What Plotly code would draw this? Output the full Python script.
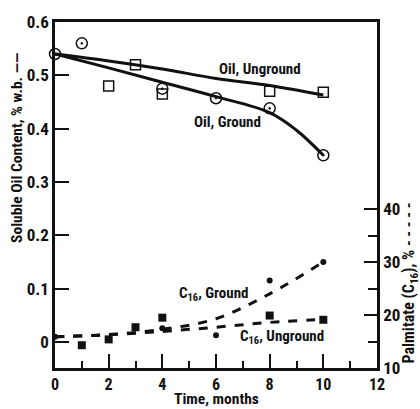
import plotly.graph_objects as go

# ---- data ----
# Oil content (% w.b.), left axis
oil_ground_months = [0, 1, 4, 6, 8, 10]
oil_ground = [0.54, 0.56, 0.475, 0.457, 0.438, 0.35]
oil_unground_months = [2, 3, 4, 8, 10]
oil_unground = [0.48, 0.52, 0.465, 0.47, 0.468]

# fitted curves (drawn by hand in the original)
oil_unground_fit_months = [0, 2, 4, 6, 8, 10]
oil_unground_fit = [0.54, 0.527, 0.512, 0.494, 0.481, 0.463]
oil_ground_fit_months = [0, 2, 4, 6, 8, 9, 10]
oil_ground_fit = [0.54, 0.514, 0.487, 0.46, 0.43, 0.397, 0.35]

# Palmitate C16 (%), right axis
c16_ground_months = [0, 4, 6, 8, 10]
c16_ground = [15.9, 17.5, 16.2, 26.5, 30.0]
c16_unground_months = [1, 2, 3, 4, 8, 10]
c16_unground = [14.3, 15.4, 17.7, 19.5, 19.9, 19.1]

c16_fit_months = [0, 2, 4, 6, 8, 10]
c16_ground_fit = [15.9, 16.3, 17.3, 19.3, 24.0, 30.0]
c16_unground_fit = [15.9, 16.3, 16.9, 17.7, 18.6, 19.2]

x_ticks = [0, 2, 4, 6, 8, 10, 12]
left_ticks = [0, 0.1, 0.2, 0.3, 0.4, 0.5, 0.6]
left_ticklabels = ["0", "0.1", "0.2", "0.3", "0.4", "0.5", "0.6"]
right_ticks = [10, 20, 30, 40]
right_minor = [15, 25, 35]

FONT = "Roboto Condensed, Liberation Sans, Arial, sans-serif"
INK = "#111111"

fig = go.Figure()

# fitted lines
fig.add_trace(go.Scatter(x=oil_unground_fit_months, y=oil_unground_fit, mode="lines",
                         line=dict(color=INK, width=3, shape="spline"), yaxis="y"))
fig.add_trace(go.Scatter(x=oil_ground_fit_months, y=oil_ground_fit, mode="lines",
                         line=dict(color=INK, width=3, shape="spline"), yaxis="y"))
fig.add_trace(go.Scatter(x=c16_fit_months, y=c16_ground_fit, mode="lines",
                         line=dict(color=INK, width=3, shape="spline", dash="dash"), yaxis="y2"))
fig.add_trace(go.Scatter(x=c16_fit_months, y=c16_unground_fit, mode="lines",
                         line=dict(color=INK, width=3, shape="spline", dash="dash"), yaxis="y2"))

# markers
fig.add_trace(go.Scatter(x=oil_unground_months, y=oil_unground, mode="markers",
                         marker=dict(symbol="square-open", size=10, color=INK, line=dict(width=1.5)),
                         cliponaxis=False, yaxis="y"))
fig.add_trace(go.Scatter(x=oil_ground_months, y=oil_ground, mode="markers",
                         marker=dict(symbol="circle-open-dot", size=11, color=INK, line=dict(width=1.5)),
                         cliponaxis=False, yaxis="y"))
fig.add_trace(go.Scatter(x=c16_unground_months, y=c16_unground, mode="markers",
                         marker=dict(symbol="square", size=8, color=INK),
                         cliponaxis=False, yaxis="y2"))
fig.add_trace(go.Scatter(x=c16_ground_months, y=c16_ground, mode="markers",
                         marker=dict(symbol="circle", size=6, color=INK),
                         cliponaxis=False, yaxis="y2"))

tickfont = dict(family=FONT, size=17, color=INK, weight="bold")

fig.update_layout(
    width=420, height=409,
    margin=dict(l=55, r=43, t=20, b=41),
    paper_bgcolor="white", plot_bgcolor="white",
    showlegend=False,
    font=dict(family=FONT, color=INK),
    xaxis=dict(range=[0, 12], tickvals=x_ticks, ticks="inside", ticklen=14, tickwidth=2,
               tickcolor=INK, showline=True, linewidth=2.5, linecolor=INK, mirror=True,
               showgrid=False, zeroline=False, tickfont=dict(family=FONT, size=16, color=INK, weight="bold"),
               minor=dict(dtick=1, ticks="inside", ticklen=7, tickwidth=2, tickcolor=INK, showgrid=False)),
    yaxis=dict(range=[-0.049, 0.6], tickvals=left_ticks, ticktext=left_ticklabels,
               ticks="inside", ticklen=14, tickwidth=2, tickcolor=INK,
               showline=True, linewidth=2.5, linecolor=INK, showgrid=False, zeroline=False,
               tickfont=tickfont),
    yaxis2=dict(range=[10, 75.3], overlaying="y", side="right", tickvals=right_ticks,
                ticks="inside", ticklen=13, tickwidth=2, tickcolor=INK,
                showline=True, linewidth=2.5, linecolor=INK, showgrid=False, zeroline=False,
                tickfont=tickfont,
                minor=dict(tickvals=right_minor, ticks="inside", ticklen=9, tickwidth=2,
                           tickcolor=INK, showgrid=False)),
)

labfont = dict(family=FONT, size=15, color=INK, weight="bold")
ann = [
    dict(text="Oil, Unground", x=7.65, y=0.511),
    dict(text="Oil, Ground", x=6.42, y=0.412),
    dict(text="C<sub>16</sub>, Ground", x=5.9, y=0.089),
    dict(text="C<sub>16</sub>, Unground", x=8.47, y=0.009),
]
for a in ann:
    fig.add_annotation(text=a["text"], x=a["x"], y=a["y"], xref="x", yref="y",
                       showarrow=False, font=labfont, xanchor="center", yanchor="middle")

fig.add_annotation(text="Soluble Oil Content, % w.b. ——", textangle=-90,
                   xref="paper", yref="paper", x=(17 - 55) / 322, y=0.636, showarrow=False,
                   font=dict(family=FONT, size=15.5, color=INK, weight="bold"),
                   xanchor="center", yanchor="middle")
fig.add_annotation(text="Palmitate (C<sub>16</sub>), % - - - - -", textangle=-90,
                   xref="paper", yref="paper", x=(410 - 55) / 322, y=0.244, showarrow=False,
                   font=dict(family=FONT, size=16, color=INK, weight="bold"),
                   xanchor="center", yanchor="middle")
fig.add_annotation(text="Time, months", xref="paper", yref="paper",
                   x=(217 - 55) / 322, y=(368 - 409) / 348, showarrow=False,
                   font=dict(family=FONT, size=15.5, color=INK, weight="bold"),
                   xanchor="center", yanchor="bottom", yshift=-1)

fig.write_html("out.html")
